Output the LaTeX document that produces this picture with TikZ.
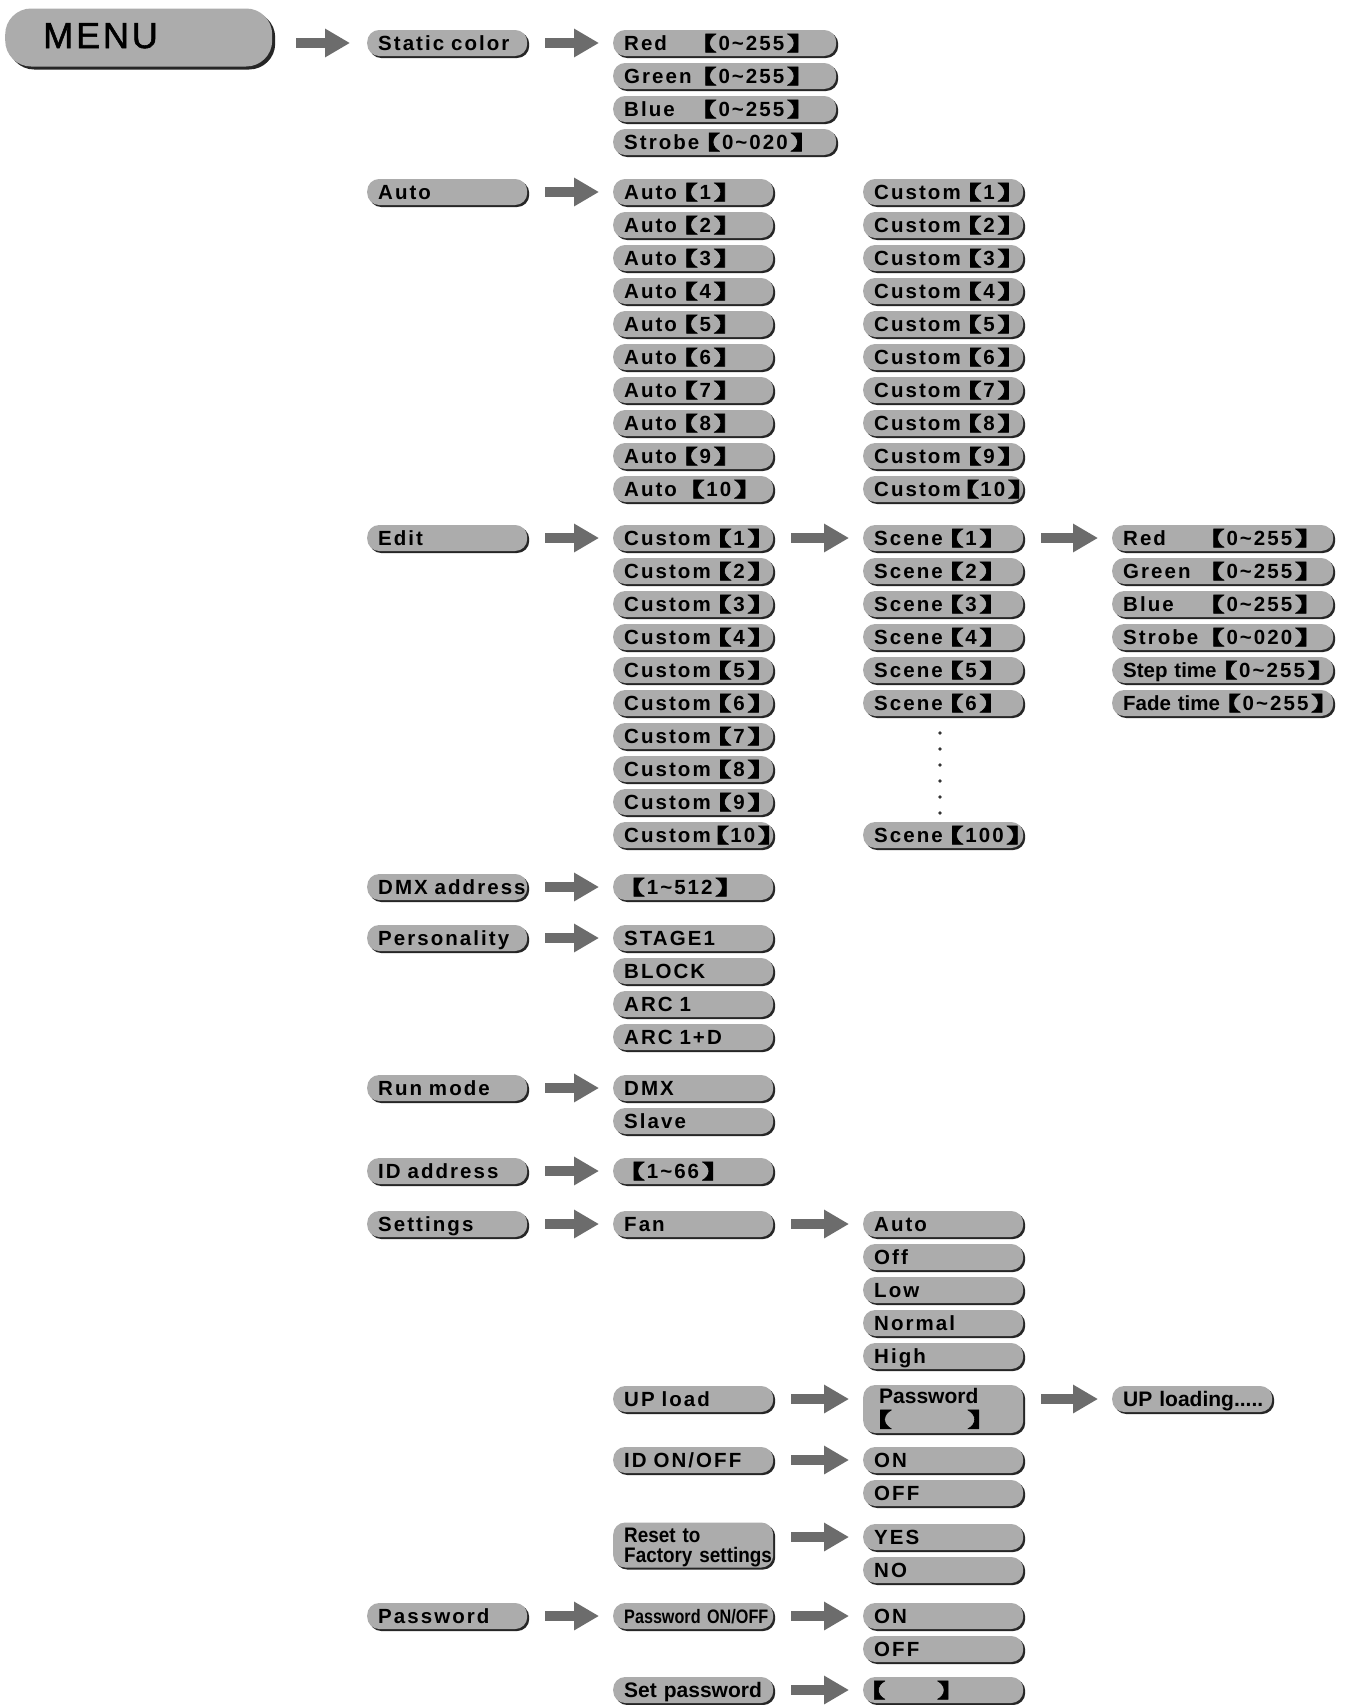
\documentclass[tikz,border=0pt]{standalone}
\usepackage{fontspec}
\setmainfont{Liberation Sans}
\newfontfamily\wf{Liberation Sans}[LetterSpace=10]
\newfontfamily\nf{Liberation Sans}
\newfontfamily\nfb{Liberation Sans}[FakeStretch=0.83]
\newfontfamily\nfc{Liberation Sans}[FakeStretch=0.9]
\newfontfamily\mf{Liberation Sans}[LetterSpace=8,FakeBold=1.5]
\newfontfamily\cjk{Noto Sans CJK SC}[FakeBold=3,Scale=0.95,FakeStretch=1.7,RawFeature=+halt]
\usetikzlibrary{arrows.meta,shadows}
\definecolor{boxgray}{RGB}{172,172,172}
\definecolor{arrgray}{RGB}{108,108,108}
\newcommand\lb{{\kern0.22em\cjk 【\kern0.08em}}
\newcommand\lbt{{\kern0.1em\cjk 【\kern0.05em}}
\newcommand\rb{{\cjk\kern0.12em】}}
\newcommand\tl{\char"7E\relax}
\newcommand\valrow[3]{\makebox[#1][s]{#2\hfill\lb#3\rb}}
\tikzset{
  base/.style={rectangle, fill=boxgray, inner sep=0pt, anchor=west, align=left},
  bx/.style={base, rounded corners=12pt, minimum height=26pt, text width=#1,
    drop shadow={shadow xshift=2pt,shadow yshift=-2pt,fill=black!85,opacity=1},
    font=\wf\fontsize{20.5}{22}\selectfont\bfseries, text height=15pt, text depth=0pt,
    execute at begin node={\hyphenpenalty=10000\exhyphenpenalty=10000\hspace*{11pt}}},
  bx/.default=160pt,
  menubx/.style={base, rounded corners=26pt, minimum height=58pt, text width=267pt,
    drop shadow={shadow xshift=3pt,shadow yshift=-3pt,fill=black!85,opacity=1},
    font=\mf\fontsize{36}{37}\selectfont, text height=25pt, text depth=4pt},
  arr/.style={draw=arrgray, line width=10pt, -{Triangle[length=25pt,width=27pt]},
    shorten <=18pt, shorten >=14pt},
}
\begin{document}
\begin{tikzpicture}[x=1pt,y=-1pt]
\path[use as bounding box, fill=white] (0,0) rectangle (1345,1705);
% MENU
\node[menubx] (menu) at (5,37.5) {\hspace*{38pt}MENU};
% column 1
\node[bx] (nstatic) at (367,43) {Static color};
\node[bx] (nauto) at (367,192) {Auto};
\node[bx] (nedit) at (367,538) {Edit};
\node[bx] (ndmx) at (367,887) {DMX address};
\node[bx] (npers) at (367,938) {Personality};
\node[bx] (nrun) at (367,1088) {Run mode};
\node[bx] (nid) at (367,1171) {ID address};
\node[bx] (nset) at (367,1224) {Settings};
\node[bx] (npwd) at (367,1616) {Password};
% static color
\node[bx=223pt] (sred) at (613,43) {\valrow{179pt}{Red}{0\tl255}};
\node[bx=223pt] (sgreen) at (613,76) {\valrow{179pt}{Green}{0\tl255}};
\node[bx=223pt] (sblue) at (613,109) {\valrow{179pt}{Blue}{0\tl255}};
\node[bx=223pt] (sstrobe) at (613,142) {\valrow{179pt}{Strobe}{0\tl020}};
% auto
\foreach \k in {1,...,9}{
  \node[bx] (auto\k) at (613,{192+33*(\k-1)}) {Auto\lb\k\rb};
}
\node[bx] (auto10) at (613,489) {\mbox{Auto \lb10\rb}};
\foreach \k in {1,...,9}{
  \node[bx] (acust\k) at (863,{192+33*(\k-1)}) {Custom\lb\k\rb};
}
\node[bx] (acust10) at (863,489) {\mbox{Custom\lbt10\rb}};
% edit
\foreach \k in {1,...,9}{
  \node[bx] (ecust\k) at (613,{538+33*(\k-1)}) {Custom\lb\k\rb};
}
\node[bx] (ecust10) at (613,835) {\mbox{Custom\lbt10\rb}};
\foreach \k in {1,...,6}{
  \node[bx] (scene\k) at (863,{538+33*(\k-1)}) {Scene\lb\k\rb};
}
\node[bx] (scene100) at (863,835) {\mbox{Scene\lb100\rb}};
\foreach \yy in {733,749,765,781,797,813}{
  \fill[black!80] (940,\yy) circle (1.8pt);
}
\node[bx=221pt] (pred) at (1112,538) {\valrow{188pt}{Red}{0\tl255}};
\node[bx=221pt] (pgreen) at (1112,571) {\valrow{188pt}{Green}{0\tl255}};
\node[bx=221pt] (pblue) at (1112,604) {\valrow{188pt}{Blue}{0\tl255}};
\node[bx=221pt] (pstrobe) at (1112,637) {\valrow{188pt}{Strobe}{0\tl020}};
\node[bx=221pt] (pstep) at (1112,670) {\valrow{188pt}{{\nf Step time}}{0\tl255}};
\node[bx=221pt] (pfade) at (1112,703) {\valrow{188pt}{{\nf Fade time}}{0\tl255}};
% dmx, personality, run mode, id
\node[bx] (dmxv) at (613,887) {\lb1\tl512\rb};
\node[bx] (stage) at (613,938) {STAGE1};
\node[bx] (block) at (613,971) {BLOCK};
\node[bx] (arc) at (613,1004) {ARC 1};
\node[bx] (arcd) at (613,1037) {ARC 1+D};
\node[bx] (rdmx) at (613,1088) {DMX};
\node[bx] (rslave) at (613,1121) {Slave};
\node[bx] (idv) at (613,1171) {\lb1\tl66\rb};
% settings
\node[bx] (fan) at (613,1224) {Fan};
\node[bx] (fauto) at (863,1224) {Auto};
\node[bx] (foff) at (863,1257) {Off};
\node[bx] (flow) at (863,1290) {Low};
\node[bx] (fnorm) at (863,1323) {Normal};
\node[bx] (fhigh) at (863,1356) {High};
\node[bx] (upload) at (613,1399) {UP load};
\node[bx, minimum height=48pt, text height=15pt, text depth=27pt,
  font=\nf\fontsize{21}{24}\selectfont\bfseries] (pwbox) at (863,1409)
  {\hspace*{5pt}Password\\\hspace*{12pt}{\cjk 【}\hspace{75pt}{\cjk 】}};
\node[bx, font=\nf\fontsize{21}{22}\selectfont\bfseries] (uploading) at (1112,1399) {UP loading.....};
\node[bx] (idonoff) at (613,1460) {ID ON/OFF};
\node[bx] (on1) at (863,1460) {ON};
\node[bx] (off1) at (863,1493) {OFF};
\node[bx, minimum height=45pt, text height=15pt, text depth=21pt,
  font=\nfc\fontsize{21}{20}\selectfont\bfseries] (reset) at (613,1545)
  {Reset to\\\hspace*{11pt}Factory settings};
\node[bx] (yes) at (863,1537) {YES};
\node[bx] (no) at (863,1570) {NO};
\node[bx, font=\nfb\fontsize{19.5}{22}\selectfont\bfseries] (pwonoff) at (613,1616) {Password ON/OFF};
\node[bx] (on2) at (863,1616) {ON};
\node[bx] (off2) at (863,1649) {OFF};
\node[bx, font=\nf\fontsize{21}{22}\selectfont\bfseries] (setpw) at (613,1690) {Set password};
\node[bx] (setpwv) at (863,1690) {\hspace*{-5pt}{\cjk 【}\hspace{51pt}{\cjk 】}};
% arrows
\draw[arr, shorten <=24pt, shorten >=17pt] (menu.east |- nstatic.west) -- (nstatic.west);
\draw[arr] (nstatic) -- (sred);
\draw[arr] (nauto) -- (auto1);
\draw[arr] (nedit) -- (ecust1);
\draw[arr] (ecust1) -- (scene1);
\draw[arr] (scene1) -- (pred);
\draw[arr] (ndmx) -- (dmxv);
\draw[arr] (npers) -- (stage);
\draw[arr] (nrun) -- (rdmx);
\draw[arr] (nid) -- (idv);
\draw[arr] (nset) -- (fan);
\draw[arr] (fan) -- (fauto);
\draw[arr] (upload.east) -- (upload.east -| pwbox.west);
\draw[arr] (pwbox.east |- uploading.west) -- (uploading.west);
\draw[arr] (idonoff) -- (on1);
\draw[arr] (reset.east |- yes.west) -- (yes.west);
\draw[arr] (npwd) -- (pwonoff);
\draw[arr] (pwonoff) -- (on2);
\draw[arr] (setpw) -- (setpwv);
\end{tikzpicture}
\end{document}
